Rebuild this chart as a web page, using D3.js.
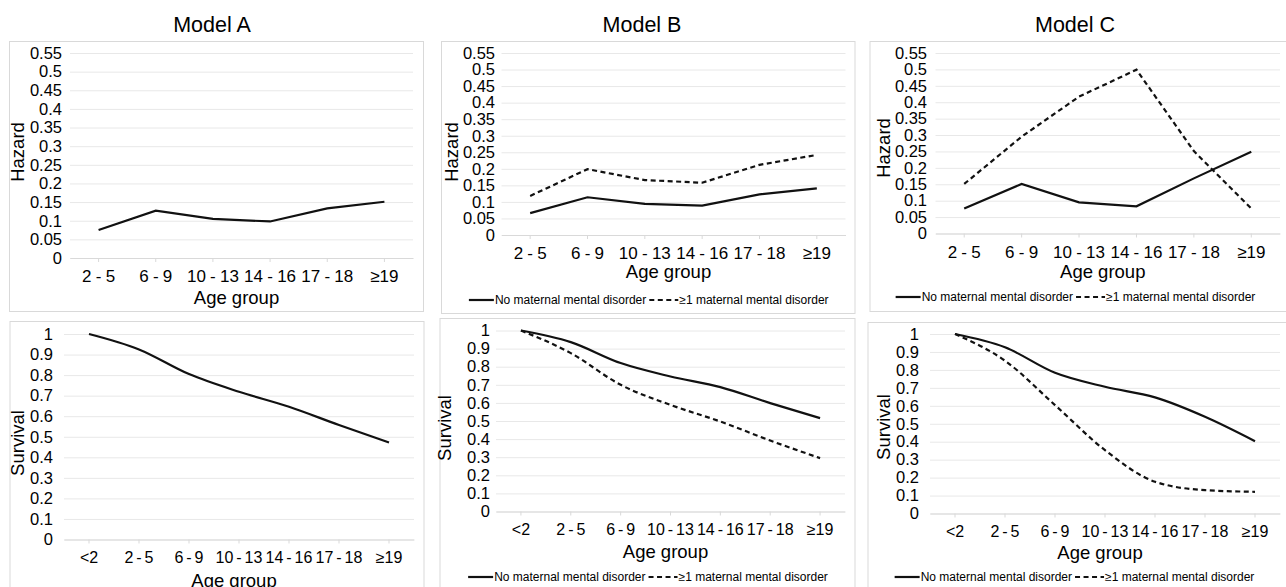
<!DOCTYPE html>
<html>
<head>
<meta charset="utf-8">
<script src="https://cdn.jsdelivr.net/npm/d3@7"></script>
<style>
    body { margin: 0; background: #fff; }
    svg text { font-family: "Liberation Sans", Arial, sans-serif; fill: #000; }
</style>
</head>
<body>
<div id="chart"></div>
<script>
// categories
var hazardAges = ["2 - 5", "6 - 9", "10 - 13", "14 - 16", "17 - 18", "\u226519"];
var survivalAges = ["<2", "2 - 5", "6 - 9", "10 - 13", "14 - 16", "17 - 18", "\u226519"];

// tick values and labels
var hazardTicks = [0, 0.05, 0.1, 0.15, 0.2, 0.25, 0.3, 0.35, 0.4, 0.45, 0.5, 0.55];
var hazardTickLabels = ["0", "0.05", "0.1", "0.15", "0.2", "0.25", "0.3", "0.35", "0.4", "0.45", "0.5", "0.55"];
var survivalTicks = [0, 0.1, 0.2, 0.3, 0.4, 0.5, 0.6, 0.7, 0.8, 0.9, 1];
var survivalTickLabels = ["0", "0.1", "0.2", "0.3", "0.4", "0.5", "0.6", "0.7", "0.8", "0.9", "1"];

var modelNames = ["Model A", "Model B", "Model C"];
var seriesNames = ["No maternal mental disorder", "\u22651 maternal mental disorder"];

// hazard values
var hazardA = [0.075, 0.127, 0.105, 0.098, 0.133, 0.151];
var hazardBNone = [0.066, 0.114, 0.094, 0.089, 0.123, 0.141];
var hazardBMat = [0.118, 0.199, 0.166, 0.158, 0.212, 0.242];
var hazardCNone = [0.076, 0.151, 0.095, 0.083, 0.168, 0.249];
var hazardCMat = [0.151, 0.295, 0.417, 0.499, 0.251, 0.076];

// survival values
var survivalA = [1, 0.925, 0.805, 0.719, 0.646, 0.557, 0.472];
var survivalBNone = [1, 0.936, 0.820, 0.746, 0.687, 0.599, 0.516];
var survivalBMat = [1, 0.875, 0.700, 0.589, 0.497, 0.392, 0.295];
var survivalCNone = [1, 0.926, 0.784, 0.706, 0.647, 0.539, 0.403];
var survivalCMat = [1, 0.851, 0.604, 0.353, 0.177, 0.130, 0.121];

var svg = d3.select("#chart").append("svg")
    .attr("width", 1286)
    .attr("height", 587);

//titles above each column
var titleX = [212, 642, 1075];
svg.selectAll("text.title").data(modelNames).enter()
    .append("text")
    .attr("class", "title")
    .attr("x", function (d, i) { return titleX[i]; })
    .attr("y", 24)
    .attr("dy", "0.35em")
    .attr("text-anchor", "middle")
    .style("font-size", "21.5px")
    .text(function (d) { return d; });

var panels = [
    {box: [9.5, 41.5, 423.5, 311.5], x0: 70, x1: 413, yTop: 53, yBottom: 258, labelX: 62,
        yTitle: "Hazard", yTitlePos: [18, 152], xTitleY: 298, legendY: null, xFont: 17, wordSp: -0.5,
        ages: hazardAges, ticks: hazardTicks, tickLabels: hazardTickLabels, yMax: 0.55, smooth: false,
        series: [hazardA]},
    {box: [441.5, 41.5, 855, 313.5], x0: 501.5, x1: 845.5, yTop: 53, yBottom: 235, labelX: 495,
        yTitle: "Hazard", yTitlePos: [451.5, 152], xTitleY: 272, legendY: 300, xFont: 17, wordSp: -0.5,
        ages: hazardAges, ticks: hazardTicks, tickLabels: hazardTickLabels, yMax: 0.55, smooth: false,
        series: [hazardBNone, hazardBMat]},
    {box: [870, 41.5, 1300, 311.5], x0: 935.5, x1: 1280, yTop: 53, yBottom: 233.5, labelX: 927,
        yTitle: "Hazard", yTitlePos: [884, 148], xTitleY: 272, legendY: 297, xFont: 17, wordSp: -0.5,
        ages: hazardAges, ticks: hazardTicks, tickLabels: hazardTickLabels, yMax: 0.55, smooth: false,
        series: [hazardCNone, hazardCMat]},
    {box: [10, 321.5, 424, 600], x0: 64, x1: 414, yTop: 334, yBottom: 539.5, labelX: 53,
        yTitle: "Survival", yTitlePos: [18, 443], xTitleY: 581, legendY: null, xFont: 16, wordSp: -1.5,
        ages: survivalAges, ticks: survivalTicks, tickLabels: survivalTickLabels, yMax: 1, smooth: true,
        series: [survivalA]},
    {box: [440, 318.5, 855, 600], x0: 496, x1: 845, yTop: 330.5, yBottom: 511.5, labelX: 490,
        yTitle: "Survival", yTitlePos: [445, 428], xTitleY: 552, legendY: 577, xFont: 16, wordSp: -1.5,
        ages: survivalAges, ticks: survivalTicks, tickLabels: survivalTickLabels, yMax: 1, smooth: true,
        series: [survivalBNone, survivalBMat]},
    {box: [868, 322.5, 1300, 600], x0: 930, x1: 1280, yTop: 334, yBottom: 513.5, labelX: 919,
        yTitle: "Survival", yTitlePos: [884, 427], xTitleY: 553, legendY: 577, xFont: 16, wordSp: -1.5,
        ages: survivalAges, ticks: survivalTicks, tickLabels: survivalTickLabels, yMax: 1, smooth: true,
        series: [survivalCNone, survivalCMat]}
];

var dashes = [null, "5,3.5"];

function drawPanel(p) {
    var g = svg.append("g");

    g.append("rect")
        .attr("x", p.box[0])
        .attr("y", p.box[1])
        .attr("width", p.box[2] - p.box[0])
        .attr("height", p.box[3] - p.box[1])
        .attr("fill", "none")
        .attr("stroke", "#d9d9d9");

    var xscale = d3.scaleBand().domain(p.ages).range([p.x0, p.x1]);
    var yscale = d3.scaleLinear().domain([0, p.yMax]).range([p.yBottom, p.yTop]);

    //gridlines
    var grid = g.append("g")
        .attr("transform", "translate(" + p.x0 + ",0)")
        .call(d3.axisLeft(yscale).tickValues(p.ticks).tickSize(-(p.x1 - p.x0)).tickFormat(""));
    grid.select(".domain").remove();
    grid.selectAll("line").attr("stroke", "#e8e8e8");

    //y axis labels
    var yAxis = g.append("g")
        .attr("transform", "translate(" + p.labelX + ",0)")
        .call(d3.axisLeft(yscale).tickValues(p.ticks).tickSize(0).tickPadding(0)
            .tickFormat(function (d, i) { return p.tickLabels[i]; }));
    yAxis.select(".domain").remove();
    yAxis.selectAll("text").style("font-size", "16.5px").attr("fill", "#000");

    //x axis
    var xAxis = g.append("g")
        .attr("transform", "translate(0," + p.yBottom + ")")
        .call(d3.axisBottom(xscale).tickSize(4).tickSizeOuter(0).tickPadding(8));
    xAxis.select(".domain").attr("stroke", "#d9d9d9");
    xAxis.selectAll("line").attr("stroke", "#d9d9d9");
    xAxis.selectAll("text")
        .style("font-size", p.xFont + "px")
        .style("word-spacing", p.wordSp + "px")
        .attr("fill", "#000");

    //axis titles
    g.append("text")
        .attr("x", (p.x0 + p.x1) / 2 - 5)
        .attr("y", p.xTitleY)
        .attr("dy", "0.35em")
        .attr("text-anchor", "middle")
        .style("font-size", "18.5px")
        .text("Age group");

    g.append("text")
        .attr("transform", "translate(" + p.yTitlePos[0] + "," + p.yTitlePos[1] + ") rotate(-90)")
        .attr("dy", "0.35em")
        .attr("text-anchor", "middle")
        .style("font-size", "18.5px")
        .text(p.yTitle);

    //lines
    var line = d3.line()
        .x(function (d, i) { return xscale(p.ages[i]) + xscale.bandwidth() / 2; })
        .y(function (d) { return yscale(d); })
        .curve(p.smooth ? d3.curveMonotoneX : d3.curveLinear);

    g.selectAll("path.series").data(p.series).enter()
        .append("path")
        .attr("class", "series")
        .attr("d", line)
        .attr("fill", "none")
        .attr("stroke", "#111")
        .attr("stroke-width", 2.2)
        .attr("stroke-dasharray", function (d, i) { return dashes[i]; });

    //legend
    if (p.legendY !== null) {
        var leg = g.append("g");
        var cx = 0;
        var sampleW = [25, 29];
        seriesNames.forEach(function (name, i) {
            leg.append("line")
                .attr("x1", cx).attr("x2", cx + sampleW[i])
                .attr("y1", 0).attr("y2", 0)
                .attr("stroke", "#111")
                .attr("stroke-width", 2.2)
                .attr("stroke-dasharray", dashes[i]);
            cx += sampleW[i] + 1;
            var t = leg.append("text")
                .attr("x", cx)
                .attr("y", 0)
                .attr("dy", "0.35em")
                .style("font-size", "12px")
                .text(name);
            cx += t.node().getComputedTextLength() + 3;
        });
        var mid = (p.box[0] + Math.min(p.box[2], 1286)) / 2;
        if (p.box[2] > 1286) mid = (p.box[0] + 1286) / 2 - 3;
        leg.attr("transform", "translate(" + (mid - cx / 2 + 2) + "," + p.legendY + ")");
    }
}

panels.forEach(drawPanel);
</script>
</body>
</html>
